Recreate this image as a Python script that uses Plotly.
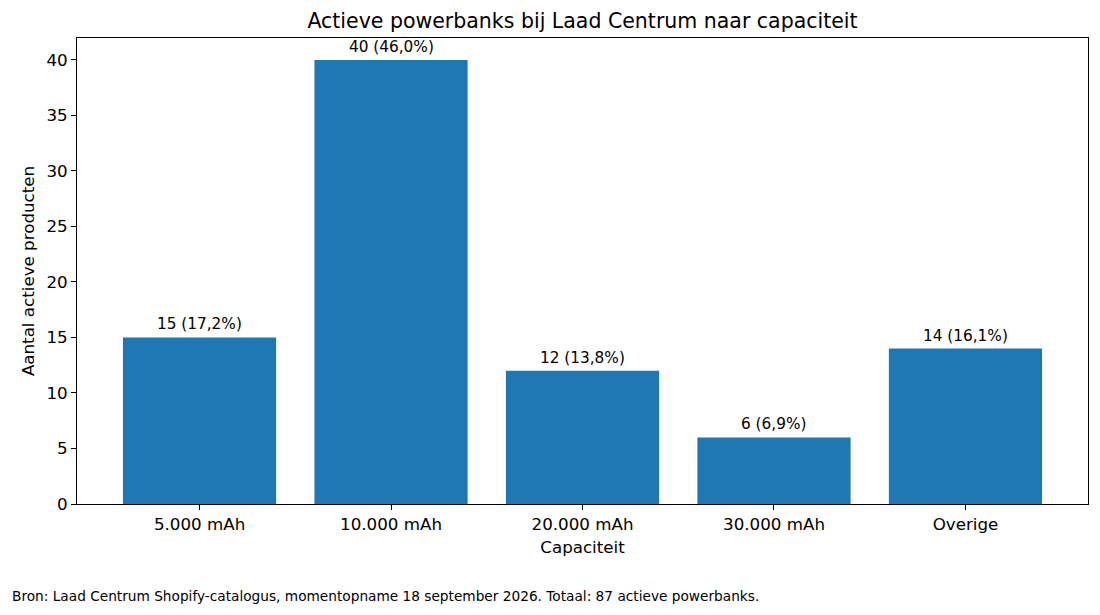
import plotly.graph_objects as go

categories = ["5.000 mAh", "10.000 mAh", "20.000 mAh", "30.000 mAh", "Overige"]
values = [15, 40, 12, 6, 14]
labels = ["15 (17,2%)", "40 (46,0%)", "12 (13,8%)", "6 (6,9%)", "14 (16,1%)"]
y_ticks = [0, 5, 10, 15, 20, 25, 30, 35, 40]

FONT = "DejaVu Sans"
OFF = 8  # page body margin offset compensation

fig = go.Figure()
fig.add_trace(go.Bar(
    x=list(range(len(categories))), y=values, width=0.8,
    marker=dict(color="#1f77b4", line=dict(width=0)),
    hoverinfo="skip",
))

for i, (v, t) in enumerate(zip(values, labels)):
    fig.add_annotation(x=i, y=v, text=t, showarrow=False, yanchor="bottom",
                       yshift=2, font=dict(family=FONT, size=15.3, color="black"))

fig.add_annotation(xref="paper", yref="paper", x=-0.0663, y=-0.197,
                   xanchor="left", yanchor="middle", showarrow=False,
                   text="Bron: Laad Centrum Shopify-catalogus, momentopname 18 september 2026. Totaal: 87 actieve powerbanks.",
                   font=dict(family=FONT, size=13.7, color="black"))

fig.update_layout(
    width=1100, height=615,
    margin=dict(l=77 - OFF, r=12 + OFF, t=38 - OFF, b=111 + OFF),
    paper_bgcolor="white", plot_bgcolor="white",
    showlegend=False,
    font=dict(family=FONT, color="black"),
    title=dict(text="Actieve powerbanks bij Laad Centrum naar capaciteit",
               x=0.5, xref="paper", xanchor="center", y=1 - (21 - OFF) / 615, yanchor="middle",
               font=dict(family=FONT, size=20.5, color="black")),
    xaxis=dict(
        range=[-0.64, 4.64], tickmode="array", tickvals=list(range(len(categories))),
        ticktext=categories, ticks="outside", ticklen=5, tickcolor="black",
        showline=True, mirror=True, linecolor="black", linewidth=1,
        showgrid=False, zeroline=False,
        tickfont=dict(family=FONT, size=16.7, color="black"),
        title=dict(text="Capaciteit", standoff=8,
                   font=dict(family=FONT, size=16.7, color="black")),
    ),
    yaxis=dict(
        range=[0, 41.98], tickmode="array", tickvals=y_ticks,
        ticks="outside", ticklen=5, tickcolor="black",
        showline=True, mirror=True, linecolor="black", linewidth=1,
        showgrid=False, zeroline=False,
        tickfont=dict(family=FONT, size=16.7, color="black"),
        title=dict(text="Aantal actieve producten", standoff=7,
                   font=dict(family=FONT, size=16.7, color="black")),
    ),
)

fig.write_html("out.html")
